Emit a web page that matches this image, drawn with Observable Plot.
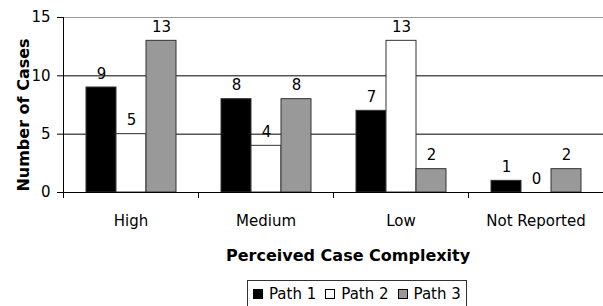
<!DOCTYPE html>
<html><head><meta charset="utf-8">
<script src="https://cdn.jsdelivr.net/npm/d3@7"></script>
<script src="https://cdn.jsdelivr.net/npm/@observablehq/plot@0.6"></script>
<style>
body{margin:0;background:#fff;font-family:"DejaVu Sans";}
#wrap{position:relative;width:603px;height:306px;overflow:hidden;background:#fff;}
#xtitle{position:absolute;left:226px;top:248px;font:bold 16px "DejaVu Sans";line-height:16px;white-space:nowrap;color:#000;}
#legend{position:absolute;left:247px;top:280px;border:1px solid #333;padding:6px 5px 10px 5px;font:15px "DejaVu Sans";line-height:15px;white-space:nowrap;color:#000;}
.sw{display:inline-block;width:8px;height:8px;border:1px solid #000;margin-right:6px;vertical-align:0px;}
.item{margin-right:9px;}
.item:last-child{margin-right:0;}
</style>
</head><body>
<div id="wrap"><div id="chart"></div><div id="xtitle"></div><div id="legend"></div></div>
<script>
const categories = ["High", "Medium", "Low", "Not Reported"];
const series = ["Path 1", "Path 2", "Path 3"];
const path1 = [9, 8, 7, 1];
const path2 = [5, 4, 13, 0];
const path3 = [13, 8, 2, 2];
const seriesColors = ["#000000", "#ffffff", "#999999"];
const yTicks = [0, 5, 10, 15];
const gridValues = [5, 10];
const yTitle = "Number of Cases";
const xTitle = "Perceived Case Complexity";

const values = [path1, path2, path3];
const table = categories.flatMap((c, i) => series.map((s, j) => ({category: c, series: s, value: values[j][i]})));

const W = 603, H = 238, mT = 17, mB = 46, mL = 63, mR = 0;
const plotH = H - mT - mB;

const chart = Plot.plot({
  width: W, height: H, marginLeft: mL, marginRight: mR, marginTop: mT, marginBottom: mB,
  style: {fontFamily: "DejaVu Sans", fontSize: "15px", color: "#000", background: "#fff"},
  fx: {domain: categories, padding: 0, label: null},
  x: {domain: series, paddingInner: 0, paddingOuter: 0.75, axis: null},
  y: {domain: [0, 15]},
  color: {domain: series, range: seriesColors},
  marks: [
    Plot.ruleY([yTicks[yTicks.length - 1]], {stroke: "#999"}),
    Plot.ruleY(gridValues, {stroke: "#000"}),
    Plot.barY(table, {fx: "category", x: "series", y: "value", fill: "series", stroke: "#333", strokeWidth: 1}),
    Plot.text(table, {fx: "category", x: "series", y: "value", text: "value", lineAnchor: "bottom", dy: -9, fill: "#000", fontSize: 15}),
    Plot.ruleY([0], {stroke: "#000"}),
    Plot.frame({anchor: "left", facetAnchor: "left", stroke: "#000"}),
    Plot.frame({anchor: "left", insetTop: plotH, insetBottom: -5, stroke: "#000"}),
    Plot.axisY({ticks: yTicks, tickSize: 6, tickPadding: 7, fontSize: 15, label: null}),
    Plot.text([yTitle], {frameAnchor: "left", facetAnchor: "left", textAnchor: "middle", lineAnchor: "middle", rotate: -90, dx: -40, dy: 10, fontWeight: "bold", fontSize: 16, fill: "#000"}),
    Plot.axisFx({anchor: "bottom", tickSize: 0, tickPadding: 23, fontSize: 15, label: null})
  ]
});
document.getElementById("chart").appendChild(chart);
document.getElementById("xtitle").textContent = xTitle;
const lg = document.getElementById("legend");
series.forEach((s, i) => {
  const it = document.createElement("span");
  it.className = "item";
  const sw = document.createElement("span");
  sw.className = "sw";
  sw.style.background = seriesColors[i];
  it.appendChild(sw);
  it.appendChild(document.createTextNode(s));
  lg.appendChild(it);
});
</script>
</body></html>
